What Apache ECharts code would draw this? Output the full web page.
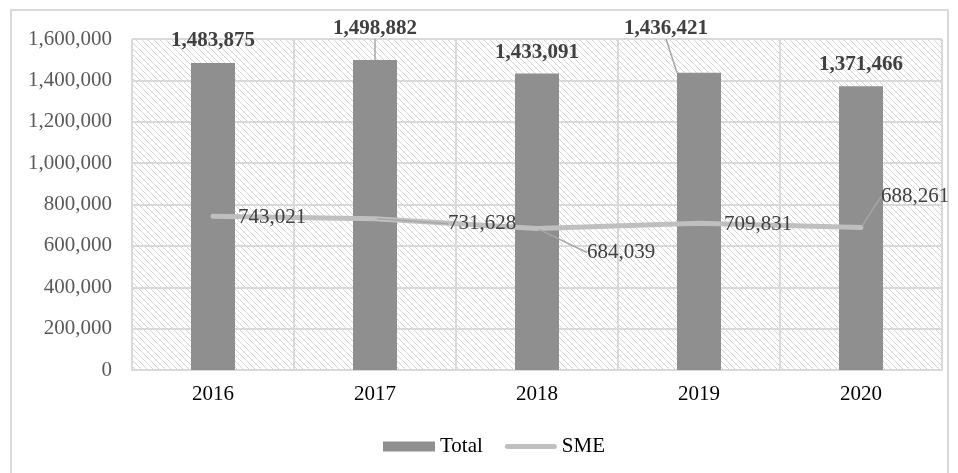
<!DOCTYPE html>
<html>
<head>
<meta charset="utf-8">
<script src="https://cdn.jsdelivr.net/npm/echarts@6/dist/echarts.min.js"></script>
<style>
html,body{margin:0;padding:0;background:#fff;}
#chart{width:958px;height:473px;}
</style>
</head>
<body>
<div id="chart"></div>
<script>
// ---- data ----
const years = ['2016', '2017', '2018', '2019', '2020'];
const totalValues = [1483875, 1498882, 1433091, 1436421, 1371466];
const smeValues = [743021, 731628, 684039, 709831, 688261];
const yTicks = { min: 0, max: 1600000, interval: 200000 };

// ---- label layout (offsets from default label positions) ----
const totalOffsets = [[0, -7], [0, -16], [0, -5], [-33, -29], [0, -6]];
const totalLeader = [false, true, false, true, false];
const smeOffsets = [[18, 1], [66, 5], [43, 24], [18, 1], [13, -31]];
const smeLeader = [false, true, true, false, true];

const FONT = 'Liberation Serif, Times New Roman, serif';
const FS = 21;
const fmt = v => Number(v).toLocaleString('en-US');

// hatch pattern
const pc = document.createElement('canvas');
pc.width = 6; pc.height = 6;
const g = pc.getContext('2d');
g.fillStyle = '#ffffff'; g.fillRect(0, 0, 6, 6);
g.strokeStyle = '#d4d4d4'; g.lineWidth = 1;
g.beginPath();
g.moveTo(-1, -1); g.lineTo(7, 7);
g.moveTo(-1, 5); g.lineTo(1, 7);
g.moveTo(5, -1); g.lineTo(7, 1);
g.stroke();

const chart = echarts.init(document.getElementById('chart'), null, { renderer: 'canvas' });

const option = {
  backgroundColor: '#ffffff',
  animation: false,
  textStyle: { fontFamily: FONT },
  graphic: [{
    type: 'rect',
    shape: { x: 11, y: 10, width: 937, height: 480 },
    style: { fill: 'none', stroke: '#d9d9d9', lineWidth: 2 },
    silent: true, z: -10
  }],
  grid: {
    left: 132, right: 16, top: 39, bottom: 103,
    show: true,
    backgroundColor: { image: pc, repeat: 'repeat' },
    borderColor: '#d9d9d9', borderWidth: 1
  },
  legend: {
    left: 378, top: 431,
    itemWidth: 52, itemHeight: 10, itemGap: 22,
    symbolKeepAspect: true,
    textStyle: { fontFamily: FONT, fontSize: FS, color: '#000000' },
    data: [
      { name: 'Total', icon: 'rect' },
      { name: 'SME', icon: 'path://M2.5,0 H49.5 A2.5,2.5 0 0 1 49.5,5 H2.5 A2.5,2.5 0 0 1 2.5,0 Z' }
    ]
  },
  xAxis: {
    type: 'category',
    data: years,
    boundaryGap: true,
    axisLine: { show: true, lineStyle: { color: '#d9d9d9', width: 2 } },
    axisTick: { show: false },
    splitLine: { show: true, lineStyle: { color: '#d9d9d9', width: 2 } },
    axisLabel: { fontFamily: FONT, fontSize: FS, color: '#000000', margin: 14 }
  },
  yAxis: {
    type: 'value',
    min: yTicks.min, max: yTicks.max, interval: yTicks.interval,
    axisLine: { show: false },
    axisTick: { show: false },
    splitLine: { show: true, lineStyle: { color: '#d9d9d9', width: 2 } },
    axisLabel: { fontFamily: FONT, fontSize: FS, color: '#595959', margin: 20, formatter: fmt }
  },
  series: [
    {
      name: 'Total',
      type: 'bar',
      barWidth: 44,
      itemStyle: { color: '#8f8f8f' },
      data: totalValues.map((v, i) => ({ value: v, labelLine: { show: totalLeader[i] } })),
      label: {
        show: true, position: 'top', distance: 5,
        fontFamily: FONT, fontSize: FS, fontWeight: 'bold', color: '#404040',
        formatter: p => fmt(p.value)
      },
      labelLine: { show: false, lineStyle: { color: '#a6a6a6', width: 1.5 } },
      labelLayout: p => ({ dx: totalOffsets[p.dataIndex][0], dy: totalOffsets[p.dataIndex][1] }),
      z: 2
    },
    {
      name: 'SME',
      type: 'line',
      symbol: 'circle',
      symbolSize: 4,
      showSymbol: true,
      itemStyle: { color: '#bfbfbf' },
      lineStyle: { color: '#bfbfbf', width: 5, cap: 'round', join: 'round' },
      data: smeValues.map((v, i) => ({ value: v, labelLine: { show: smeLeader[i] } })),
      label: {
        show: true, position: 'right', distance: 5,
        fontFamily: FONT, fontSize: FS, color: '#404040',
        formatter: p => fmt(p.value)
      },
      labelLine: { show: false, lineStyle: { color: '#a6a6a6', width: 1.5 } },
      labelLayout: p => ({ dx: smeOffsets[p.dataIndex][0], dy: smeOffsets[p.dataIndex][1] }),
      z: 3
    }
  ]
};
chart.setOption(option);
</script>
</body>
</html>
